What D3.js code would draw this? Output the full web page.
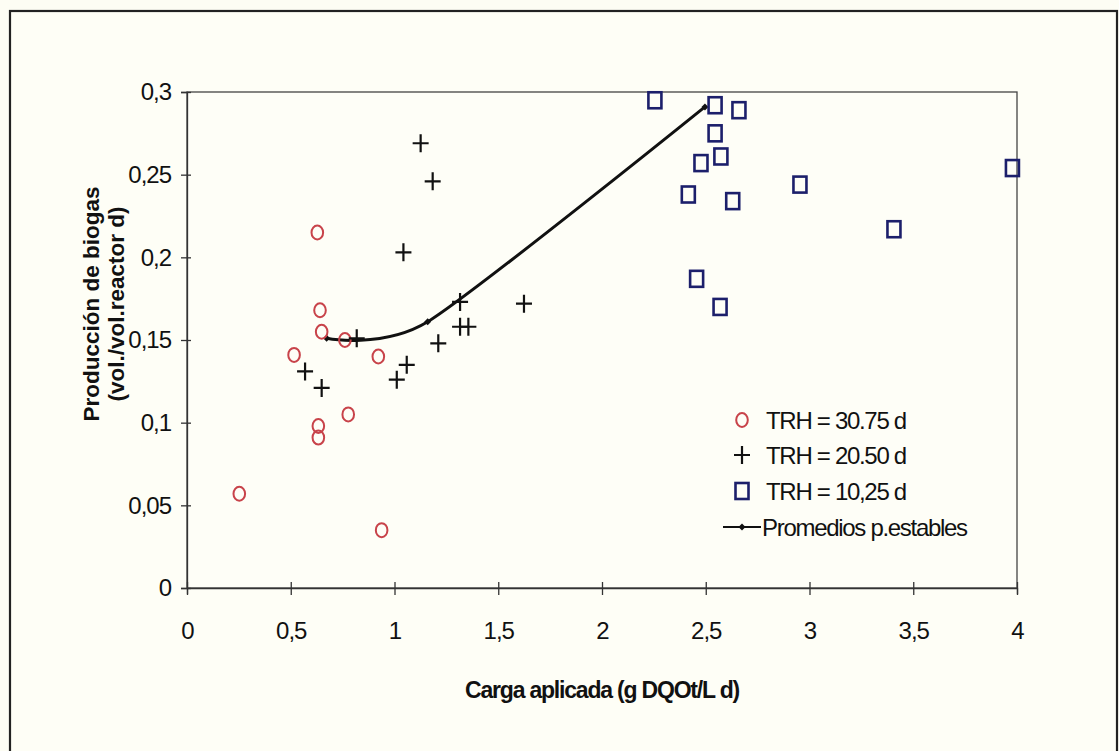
<!DOCTYPE html>
<html>
<head>
<meta charset="utf-8">
<script src="https://cdn.jsdelivr.net/npm/d3@7"></script>
<style>
  html, body { margin: 0; padding: 0; background: #fdfdf4; }
  svg { display: block; }
  text { font-family: "Liberation Sans", Arial, sans-serif; fill: #111; }
</style>
</head>
<body>
<svg id="chart" width="1119" height="751"></svg>
<script>
// ---- data ----
const xTicks = [0, 0.5, 1, 1.5, 2, 2.5, 3, 3.5, 4];
const yTicks = [0, 0.05, 0.1, 0.15, 0.2, 0.25, 0.3];

const trh3075X = [0.628, 0.641, 0.649, 0.761, 0.516, 0.922, 0.777, 0.633, 0.633, 0.252, 0.938];
const trh3075Y = [0.215, 0.168, 0.155, 0.150, 0.141, 0.140, 0.105, 0.098, 0.091, 0.057, 0.035];

const trh2050X = [1.126, 1.184, 1.043, 1.316, 1.624, 1.316, 1.356, 1.211, 0.818, 0.569, 0.649, 1.011, 1.059];
const trh2050Y = [0.269, 0.246, 0.203, 0.173, 0.172, 0.158, 0.158, 0.148, 0.151, 0.131, 0.121, 0.126, 0.135];

const trh1025X = [2.255, 2.545, 2.660, 2.545, 2.573, 2.477, 3.978, 2.954, 2.416, 2.630, 3.407, 2.456, 2.569];
const trh1025Y = [0.295, 0.292, 0.289, 0.275, 0.261, 0.257, 0.254, 0.244, 0.238, 0.234, 0.217, 0.187, 0.170];

const promX = [0.673, 1.160, 2.496];
const promY = [0.151, 0.161, 0.291];

const legendLabels = ["TRH = 30.75 d", "TRH = 20.50 d", "TRH = 10,25 d", "Promedios p.estables"];
const xTitle = "Carga aplicada (g DQOt/L d)";
const yTitle = ["Producción de biogas", "(vol./vol.reactor d)"];

// ---- layout ----
const svg = d3.select("#chart");
const pL = 187, pR = 1017, pT = 92, pB = 588;
const x = d3.scaleLinear().domain([0, 4]).range([pL, pR]);
const y = d3.scaleLinear().domain([0, 0.3]).range([pB, pT]);
const fmt = d => String(d).replace(".", ",");

const RED = "#c8434a", NAVY = "#1c1f6b";

// outer frame
svg.append("rect").attr("x", 10).attr("y", 11).attr("width", 1107).attr("height", 760)
  .attr("fill", "#fefef6").attr("stroke", "#222").attr("stroke-width", 2.2);

// plot area
svg.append("rect").attr("x", pL).attr("y", pT).attr("width", pR - pL).attr("height", pB - pT)
  .attr("fill", "#fefef7").attr("stroke", "#444").attr("stroke-width", 1.3);

// axes
const xAxis = svg.append("g").attr("transform", `translate(0,${pB})`)
  .call(d3.axisBottom(x).tickValues(xTicks).tickFormat(fmt).tickSize(6).tickPadding(28));
xAxis.selectAll(".tick line").attr("y1", -6).attr("y2", 7).attr("stroke", "#333").attr("stroke-width", 1.3);
xAxis.select(".domain").attr("stroke", "#333").attr("stroke-width", 1.3);
xAxis.selectAll("text").attr("font-size", 24).attr("fill", "#111")
  .attr("font-family", "Liberation Sans, Arial, sans-serif").style("letter-spacing", "-1px");

const yAxis = svg.append("g").attr("transform", `translate(${pL},0)`)
  .call(d3.axisLeft(y).tickValues(yTicks).tickFormat(fmt).tickSize(6).tickPadding(10));
yAxis.selectAll(".tick line").attr("x1", -6).attr("x2", 4).attr("stroke", "#333").attr("stroke-width", 1.3);
yAxis.select(".domain").attr("stroke", "#333").attr("stroke-width", 1.3);
yAxis.selectAll("text").attr("font-size", 24).attr("fill", "#111")
  .attr("font-family", "Liberation Sans, Arial, sans-serif").style("letter-spacing", "-1px");

// axis titles
svg.append("text").attr("x", 602).attr("y", 698).attr("text-anchor", "middle")
  .attr("font-size", 23).attr("font-weight", "bold").style("letter-spacing", "-1.2px").text(xTitle);

const yt = svg.append("g").attr("transform", "translate(0,304) rotate(-90)");
yt.append("text").attr("x", 0).attr("y", 99).attr("text-anchor", "middle")
  .attr("font-size", 22.5).attr("font-weight", "bold").text(yTitle[0]);
yt.append("text").attr("x", 0).attr("y", 124).attr("text-anchor", "middle")
  .attr("font-size", 22.5).attr("font-weight", "bold").text(yTitle[1]);

// marker helpers
function circleMark(g, cx, cy) {
  g.append("ellipse").attr("cx", cx).attr("cy", cy).attr("rx", 5.8).attr("ry", 7)
    .attr("fill", "none").attr("stroke", RED).attr("stroke-width", 2);
}
function crossMark(g, cx, cy) {
  g.append("path").attr("d", `M${cx - 8},${cy}H${cx + 8}M${cx},${cy - 9}V${cy + 9}`)
    .attr("stroke", "#111").attr("stroke-width", 2.2).attr("fill", "none");
}
function squareMark(g, cx, cy) {
  g.append("rect").attr("x", cx - 6.5).attr("y", cy - 8).attr("width", 13).attr("height", 16)
    .attr("fill", "none").attr("stroke", NAVY).attr("stroke-width", 2.6);
}
function diamondMark(g, cx, cy) {
  g.append("path").attr("d", `M${cx},${cy - 3.5}L${cx + 3.5},${cy}L${cx},${cy + 3.5}L${cx - 3.5},${cy}Z`)
    .attr("fill", "#111");
}

const marks = svg.append("g");

// averages line (smoothed)
const line = d3.line().x(d => x(d[0])).y(d => y(d[1])).curve(d3.curveCardinal.tension(0.3));
const promPts = promX.map((v, i) => [v, promY[i]]);
marks.append("path").attr("d", line(promPts)).attr("fill", "none")
  .attr("stroke", "#111").attr("stroke-width", 3);
promPts.forEach(p => diamondMark(marks, x(p[0]), y(p[1])));

trh3075X.forEach((v, i) => circleMark(marks, x(v), y(trh3075Y[i])));
trh2050X.forEach((v, i) => crossMark(marks, x(v), y(trh2050Y[i])));
trh1025X.forEach((v, i) => squareMark(marks, x(v), y(trh1025Y[i])));

// legend
const lg = svg.append("g");
const lx = 742, tx = 766, rows = [420, 455, 491, 527];
circleMark(lg, lx, rows[0]);
crossMark(lg, lx, rows[1]);
squareMark(lg, lx, rows[2]);
lg.append("line").attr("x1", 723).attr("x2", 761).attr("y1", rows[3]).attr("y2", rows[3])
  .attr("stroke", "#111").attr("stroke-width", 2.2);
diamondMark(lg, lx, rows[3]);
legendLabels.forEach((t, i) => {
  lg.append("text").attr("x", i === 3 ? 762 : tx).attr("y", rows[i]).attr("dy", "0.36em")
    .attr("font-size", 24).style("letter-spacing", "-1.3px").text(t);
});
</script>
</body>
</html>
